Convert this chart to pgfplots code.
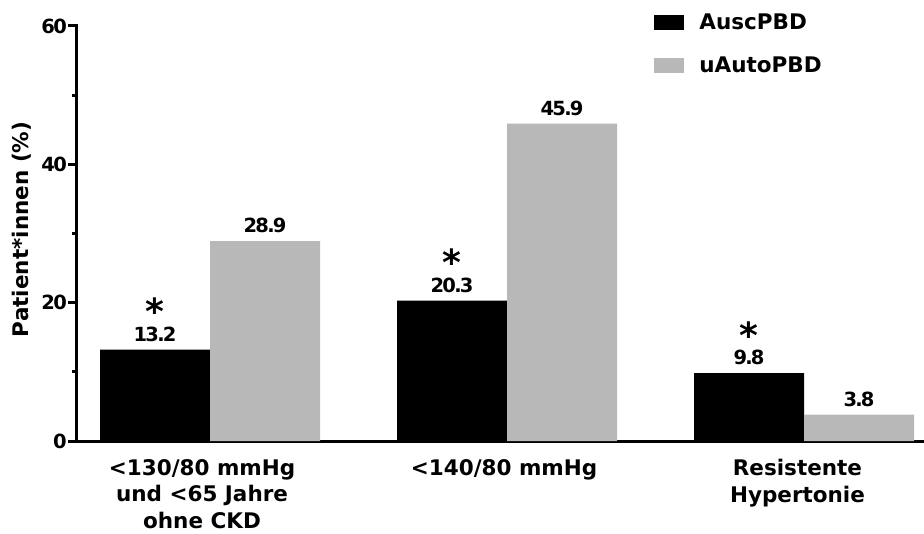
\documentclass[border=0pt]{standalone}
\usepackage{fontspec}
\setmainfont{DejaVu Sans}
\newfontfamily\numfont{DejaVu Sans}[LetterSpace=-9]
\usepackage{pgfplots}
\pgfplotsset{compat=1.18}
\definecolor{bargray}{RGB}{184,184,184}
\begin{document}
\begin{tikzpicture}
\useasboundingbox (-77pt,-92pt) rectangle (847pt,441pt);
\begin{axis}[
  scale only axis, width=847pt, height=415pt,
  xmin=-0.448, xmax=2.404, ymin=0, ymax=60,
  axis x line=bottom, axis y line=left,
  axis line style={-, line width=3pt, line cap=rect},
  ytick={0,20,40,60}, minor ytick={10,30,50},
  tick align=outside, major tick length=9pt, minor tick length=5pt,
  every tick/.style={line width=3pt, black},
  xtick={-0.027,0.99,1.978},
  xticklabels={{<130/80 mmHg\\und <65 Jahre\\ohne CKD}, {<140/80 mmHg}, {Resistente\\Hypertonie}},
  x tick style={draw=none},
  xticklabel style={font=\fontsize{21.5}{26.5}\selectfont\bfseries, align=center, anchor=north, inner sep=0pt, yshift=-9pt},
  yticklabel style={font=\fontsize{19.5}{19.5}\numfont\bfseries, inner sep=1pt},
  /pgf/number format/assume math mode=true,
  ylabel={Patient*innen (\%)},
  ylabel style={font=\fontsize{21.5}{21.5}\selectfont\bfseries, at={(axis description cs:0,0.51)}, yshift=55pt, anchor=center},
  legend style={draw=none, fill=none, at={(axis description cs:0.681,1.03)}, anchor=north west, inner sep=0pt, row sep=26pt,
    font=\fontsize{21.5}{21.5}\selectfont\bfseries, nodes={inner sep=0pt},
    /tikz/every odd column/.append style={column sep=16pt}},
  legend cell align=left,
  clip=false,
]
\addlegendimage{legend image code/.code={\fill[black] (0pt,-7pt) rectangle (29pt,7pt);}}
\addlegendentry{AuscPBD}
\addlegendimage{legend image code/.code={\fill[bargray] (0pt,-7pt) rectangle (29pt,7pt);}}
\addlegendentry{uAutoPBD}
\addplot[ybar, bar width=110pt, bar shift=-55pt, fill=black, draw=none, forget plot,
  nodes near coords, point meta=y,
  nodes near coords style={font=\fontsize{19.5}{19.5}\numfont\bfseries, anchor=south, inner sep=0pt, yshift=8pt, xshift=-55pt,
    /pgf/number format/.cd, fixed, precision=1, fixed zerofill}]
  coordinates {(0,13.2) (1,20.3) (2,9.8)};
\addplot[ybar, bar width=110pt, bar shift=55pt, fill=bargray, draw=none, forget plot,
  nodes near coords, point meta=y,
  nodes near coords style={font=\fontsize{19.5}{19.5}\numfont\bfseries, anchor=south, inner sep=0pt, yshift=8pt, xshift=55pt,
    /pgf/number format/.cd, fixed, precision=1, fixed zerofill}]
  coordinates {(0,28.9) (1,45.9) (2,3.8)};
\addplot[ybar, bar width=110pt, bar shift=-55pt, fill=none, draw=none, forget plot,
  nodes near coords={*},
  nodes near coords style={font=\fontsize{36}{36}\selectfont\bfseries, anchor=south, inner sep=0pt, yshift=25pt, xshift=-55pt}]
  coordinates {(0,13.2) (1,20.3) (2,9.8)};
\end{axis}
\end{tikzpicture}
\end{document}
